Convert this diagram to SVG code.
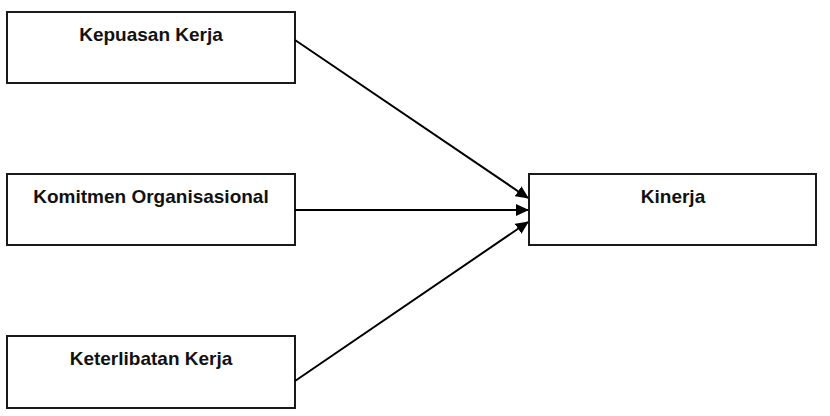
<svg xmlns="http://www.w3.org/2000/svg" width="830" height="416" viewBox="0 0 830 416">
<style>
.box{fill:#fff;stroke:#1a1a1a;stroke-width:2}
.lbl{font-family:"Liberation Sans",Arial,sans-serif;font-weight:bold;font-size:19px;fill:#111;text-anchor:middle}
.con{stroke:#000;stroke-width:2;fill:none;marker-end:url(#ah)}
</style>
<defs>
<marker id="ah" markerWidth="13" markerHeight="12" refX="12" refY="6" orient="auto" markerUnits="userSpaceOnUse" viewBox="0 0 13 12">
<path d="M0,0 L13,6 L0,12 Z" fill="#000"/>
</marker>
</defs>
<rect width="830" height="416" fill="#fff"/>
<g id="node-kepuasan">
<rect class="box" x="7" y="12" width="288" height="71"/>
<text class="lbl" x="151" y="41">Kepuasan Kerja</text>
</g>
<g id="node-komitmen">
<rect class="box" x="7" y="174" width="288" height="71"/>
<text class="lbl" x="151" y="203">Komitmen Organisasional</text>
</g>
<g id="node-keterlibatan">
<rect class="box" x="7" y="336" width="288" height="72"/>
<text class="lbl" x="151" y="365">Keterlibatan Kerja</text>
</g>
<g id="node-kinerja">
<rect class="box" x="529" y="174" width="287" height="71"/>
<text class="lbl" x="673" y="203">Kinerja</text>
</g>
<g id="connectors">
<line class="con" x1="295" y1="40" x2="528" y2="198"/>
<line class="con" x1="295" y1="210" x2="528" y2="210"/>
<line class="con" x1="295" y1="381" x2="528" y2="222"/>
</g>
</svg>
